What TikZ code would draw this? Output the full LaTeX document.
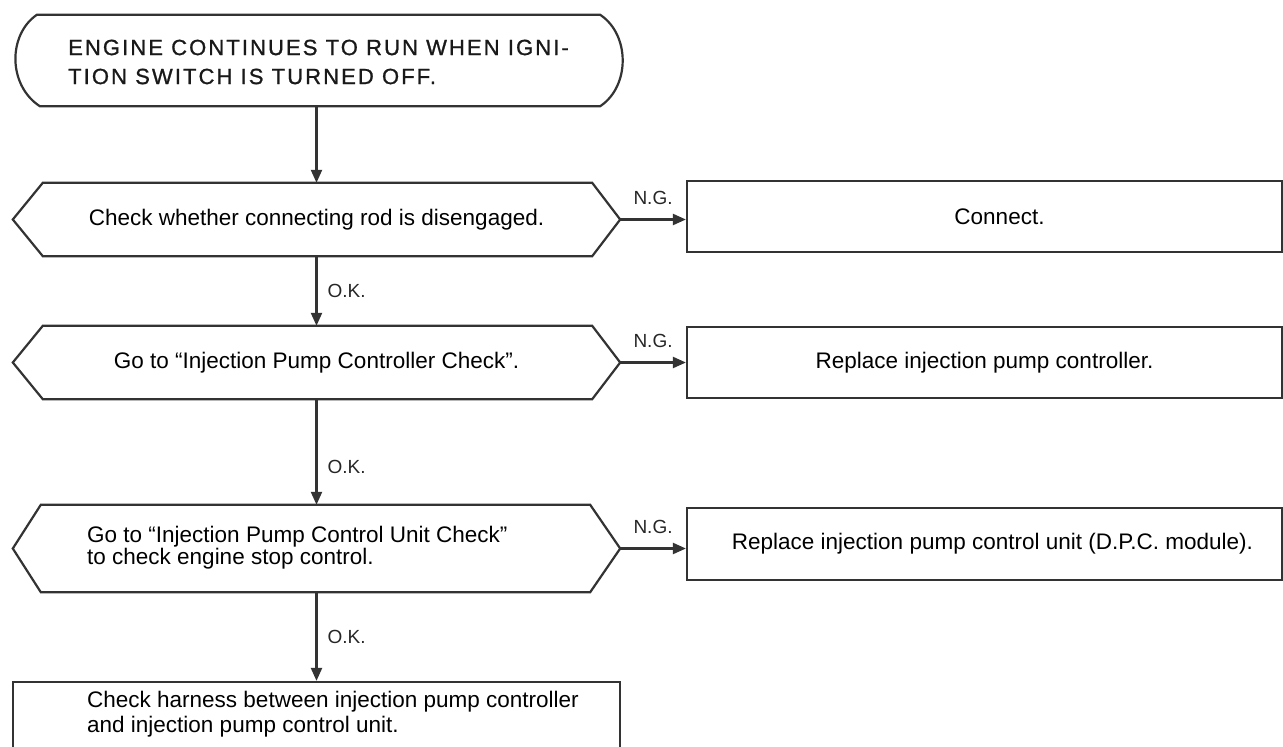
\documentclass[tikz,border=0pt]{standalone}
\usepackage{fontspec}
\setmainfont{Liberation Sans}
\newfontfamily\capsfont[LetterSpace=9.5,FakeBold=1]{Liberation Sans}
\usetikzlibrary{calc,arrows.meta}
\begin{document}
\begin{tikzpicture}[x=1pt,y=-1pt,
  ln/.style={line width=2.2pt, draw=black!80},
  conn/.style={ln, -{Triangle[length=13pt,width=11pt]}},
  body/.style={font=\fontsize{22.5}{25}\selectfont, text=black},
  hexbox/.style={rectangle, inner sep=0pt, minimum width=607pt, body},
  rbox/.style={rectangle, ln, inner sep=0pt, minimum width=595pt, body},
  lab/.style={font=\fontsize{19}{21}\selectfont, inner sep=0pt, text=black!85},
  captext/.style={font=\capsfont\fontsize{22}{29}\selectfont, align=left, anchor=west, inner sep=0pt, text=black!90},
  lefttext/.style={body, align=left, anchor=west, inner sep=0pt},
]
\useasboundingbox (0,0) rectangle (1283,747);
\clip (0,0) rectangle (1283,747);

% start terminator
\node[rectangle, inner sep=0pt, minimum width=607pt, minimum height=91pt] (top) at (318.5,60.5) {};
\draw[ln] ($(top.north west)+(22,0)$) -- ($(top.north east)+(-22,0)$)
  .. controls +(30,20) and +(30,-20) .. ($(top.south east)+(-22,0)$)
  -- ($(top.south west)+(25,0)$)
  .. controls +(-32,-21) and +(-29,20) .. ($(top.north west)+(22,0)$) -- cycle;
\node[captext] (toptext) at (68,62) {ENGINE CONTINUES TO RUN WHEN IGNI-\\TION SWITCH IS TURNED OFF.};

% decisions
\node[hexbox, minimum height=73pt] (h1) at (316.5,219.5) {Check whether connecting rod is disengaged.};
\node[hexbox, minimum height=73pt] (h2) at (316.5,362.5) {Go to “Injection Pump Controller Check”.};
\node[hexbox, minimum height=87pt] (h3) at (316.5,548.5) {};
\node[lefttext, font=\fontsize{22.5}{22}\selectfont] (h3text) at (87,548) {Go to “Injection Pump Control Unit Check”\\to check engine stop control.};
\foreach \h/\l/\r in {h1/30/28, h2/30/28, h3/28/30}{
  \draw[ln] (\h.west) -- ($(\h.north west)+(\l,0)$) -- ($(\h.north east)+(-\r,0)$) -- (\h.east)
    -- ($(\h.south east)+(-\r,0)$) -- ($(\h.south west)+(\l,0)$) -- cycle;
}

% actions
\node[rbox, minimum height=71pt] (b1) at (984.5,216.5) {\hspace*{30pt}Connect.};
\node[rbox, minimum height=71pt] (b2) at (984.5,362.5) {Replace injection pump controller.};
\node[rbox, minimum height=72pt] (b3) at (984.5,544) {\hspace*{16pt}Replace injection pump control unit (D.P.C. module).};
\node[rectangle, ln, inner sep=0pt, minimum width=607pt, minimum height=88pt] (f) at (316.5,726) {};
\node[lefttext, font=\fontsize{22.5}{25}\selectfont] (ftext) at (87,714) {Check harness between injection pump controller\\and injection pump control unit.};

% connectors
\draw[conn] (top.south -| h1.north) -- (h1.north);
\draw[conn] (h1.south) -- node[lab, anchor=west, xshift=10pt, pos=0.5] (ok1) {O.K.} (h2.north);
\draw[conn] (h2.south) -- node[lab, anchor=west, xshift=10pt, pos=0.64] (ok2) {O.K.} (h3.north);
\draw[conn] (h3.south) -- node[lab, anchor=west, xshift=10pt, pos=0.5] (ok3) {O.K.} (f.north);
\draw[conn] (h1.east) -- node[lab, above=14pt] (ng1) {N.G.} (h1.east -| b1.west);
\draw[conn] (h2.east) -- node[lab, above=14pt] (ng2) {N.G.} (h2.east -| b2.west);
\draw[conn] (h3.east) -- node[lab, above=14pt] (ng3) {N.G.} (h3.east -| b3.west);
\end{tikzpicture}
\end{document}
